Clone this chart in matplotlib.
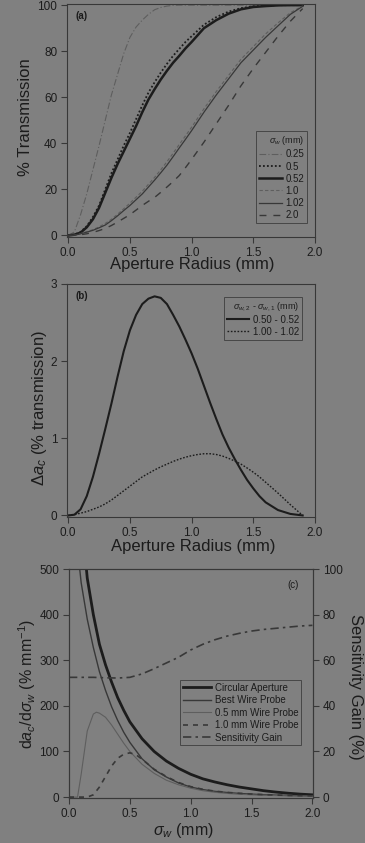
import matplotlib
matplotlib.use("Agg")
import matplotlib.pyplot as plt

# ---------------------------------------------------------------
# Figure + colours
# ---------------------------------------------------------------
W, H = 365, 843
BG = "#808080"
INK = "#1c1c1c"
DARK = "#383838"
LIGHT = "#5e5e5e"

plt.rcParams["font.family"] = ["Liberation Sans", "DejaVu Sans"]
plt.rcParams["mathtext.fontset"] = "custom"
plt.rcParams["mathtext.rm"] = "Liberation Sans"
plt.rcParams["mathtext.it"] = "Liberation Sans:italic"
plt.rcParams["text.color"] = INK
plt.rcParams["axes.edgecolor"] = DARK
plt.rcParams["xtick.color"] = DARK
plt.rcParams["ytick.color"] = DARK
plt.rcParams["xtick.labelcolor"] = INK
plt.rcParams["ytick.labelcolor"] = INK

# ---------------------------------------------------------------
# Panel (a): % transmission vs aperture radius
# ---------------------------------------------------------------
r_a = [0.0, 0.05, 0.1, 0.15, 0.2, 0.25, 0.3, 0.35, 0.4, 0.45, 0.5, 0.55, 0.6,
       0.65, 0.7, 0.75, 0.8, 0.85, 0.9, 0.95, 1.0, 1.1, 1.2, 1.3, 1.4, 1.5,
       1.6, 1.7, 1.8, 1.9]
t_025 = [0, 1.5, 9, 18, 28.5, 39, 50, 61, 70, 79, 86, 90.5, 93.5,
         96, 98, 99, 99.6, 99.9, 100, 100, 100, 100, 100, 100, 100, 100,
         100, 100, 100, 100]
t_050 = [0, 0.3, 1.5, 4, 8, 13, 20, 27, 33, 39, 44.5, 50.5, 56.5,
         62, 66.5, 70.7, 74.5, 78, 81, 84, 86.5, 91.5, 94.8, 97.2, 98.7, 99.5,
         99.8, 100, 100, 100]
t_052 = [0, 0.3, 1.2, 3.5, 7, 12, 18.5, 25, 31, 36.5, 42, 47.5, 53.5,
         59, 63.5, 67.7, 71.5, 75, 78, 81.2, 84, 90, 93.5, 96.3, 98.2, 99.2,
         99.6, 99.9, 100, 100]
t_100 = [0, 0.1, 0.8, 1.6, 2.5, 3.7, 5.2, 7.0, 9.2, 11.6, 14, 16.6, 19.2,
         22.2, 25.2, 28.5, 32, 35.7, 39.5, 43.2, 47, 55, 62.5, 69.5, 76.5, 82,
         87.5, 92.3, 96.7, 99.7]
t_102 = [0, 0.1, 0.7, 1.4, 2.2, 3.3, 4.5, 6.4, 8.5, 10.8, 13, 15.5, 18,
         21, 24, 27.2, 30.5, 34.2, 38, 41.7, 45.5, 53.5, 61, 68, 75, 80.5,
         86, 91, 96, 99.5]
t_200 = [0, 0.05, 0.3, 0.7, 1.3, 2.1, 3, 4.3, 5.8, 7.4, 9, 11, 13,
         14.8, 16.5, 18.7, 21, 23.4, 26, 29.4, 33, 40.5, 48.5, 56.5, 65, 72.5,
         79.5, 86.5, 93, 98.5]

# ---------------------------------------------------------------
# Panel (b): difference in transmission
# ---------------------------------------------------------------
r_b = [0.0, 0.05, 0.1, 0.15, 0.2, 0.25, 0.3, 0.35, 0.4, 0.45, 0.5, 0.55, 0.6,
       0.65, 0.7, 0.75, 0.8, 0.85, 0.9, 0.95, 1.0, 1.05, 1.1, 1.15, 1.2, 1.25,
       1.3, 1.35, 1.4, 1.45, 1.5, 1.55, 1.6, 1.7, 1.8, 1.9]
d_050_052 = [0, 0.01, 0.08, 0.25, 0.5, 0.8, 1.12, 1.45, 1.8, 2.13, 2.4, 2.6, 2.74,
             2.81, 2.84, 2.82, 2.74, 2.6, 2.45, 2.28, 2.1, 1.9, 1.68, 1.46, 1.25, 1.05,
             0.88, 0.73, 0.59, 0.46, 0.35, 0.25, 0.17, 0.07, 0.02, 0.0]
d_100_102 = [0, 0.01, 0.03, 0.05, 0.08, 0.11, 0.15, 0.2, 0.26, 0.32, 0.38, 0.44, 0.5,
             0.545, 0.59, 0.63, 0.665, 0.7, 0.73, 0.755, 0.775, 0.79, 0.80, 0.80, 0.79, 0.77,
             0.74, 0.705, 0.665, 0.615, 0.56, 0.5, 0.43, 0.29, 0.14, 0.0]

# ---------------------------------------------------------------
# Panel (c): sensitivity vs sigma_w
# ---------------------------------------------------------------
s_circ = [0.143, 0.15, 0.2, 0.25, 0.3, 0.35, 0.4, 0.45, 0.5, 0.6, 0.7, 0.8, 0.9,
          1.0, 1.1, 1.2, 1.3, 1.4, 1.5, 1.6, 1.7, 1.8, 1.9, 2.0]
v_circ = [500, 480, 400, 335, 290, 252, 218, 190, 165, 128, 100, 79, 63,
          50, 40, 33, 27, 22, 18, 14, 11, 8.5, 6.5, 5]

s_best = [0.088, 0.1, 0.15, 0.2, 0.25, 0.3, 0.35, 0.4, 0.45, 0.5, 0.6, 0.7, 0.8,
          0.9, 1.0, 1.1, 1.2, 1.3, 1.4, 1.5, 1.6, 1.7, 1.8, 1.9, 2.0]
v_best = [500, 470, 390, 328, 275, 234, 198, 168, 142, 120, 84, 60, 44,
          31, 22, 16.5, 12.5, 10, 8, 6.5, 5.2, 4.3, 3.6, 3, 2.6]

s_w05 = [0.0, 0.07, 0.1, 0.15, 0.2, 0.225, 0.25, 0.3, 0.35, 0.4, 0.45, 0.5, 0.6,
         0.7, 0.8, 0.9, 1.0, 1.1, 1.2, 1.3, 1.4, 1.5, 1.6, 1.7, 1.8, 1.9, 2.0]
v_w05 = [0, 0, 50, 145, 182, 186, 184, 175, 158, 138, 118, 100, 72,
         52, 37, 27, 19.5, 14, 10.5, 8, 6.2, 4.9, 4, 3.3, 2.7, 2.3, 2]

s_w10 = [0.0, 0.15, 0.2, 0.25, 0.3, 0.35, 0.4, 0.45, 0.5, 0.55, 0.6, 0.7, 0.8,
         0.9, 1.0, 1.1, 1.2, 1.3, 1.4, 1.5, 1.6, 1.7, 1.8, 1.9, 2.0]
v_w10 = [0, 0, 5, 22, 45, 68, 85, 94, 97, 93, 83, 61, 45,
         32, 23, 17, 13, 10.3, 8.3, 6.7, 5.4, 4.5, 3.7, 3.1, 2.7]

s_gain = [0.0, 0.1, 0.2, 0.3, 0.4, 0.5, 0.6, 0.7, 0.8, 0.9, 1.0, 1.1, 1.2,
          1.3, 1.4, 1.5, 1.6, 1.7, 1.8, 1.9, 2.0]
v_gain = [52.5, 52.5, 52.5, 52.3, 52.2, 52.5, 54, 56.3, 58.8, 61.3, 64.5, 67, 69,
          70.6, 71.8, 72.8, 73.5, 74, 74.5, 75, 75.3]


def px_axes(fig, x0, x1, y0, y1):
    """Axes from pixel box (x0, x1, top, bottom)."""
    ax = fig.add_axes([x0 / W, 1 - y1 / H, (x1 - x0) / W, (y1 - y0) / H])
    ax.set_facecolor(BG)
    for sp in ax.spines.values():
        sp.set_linewidth(0.8)
    ax.tick_params(direction="out", length=4, width=0.8, labelsize=8.5, pad=3)
    return ax


def style_legend(leg):
    leg.get_frame().set_facecolor(BG)
    leg.get_frame().set_edgecolor(DARK)
    leg.get_frame().set_linewidth(0.7)
    leg.get_frame().set_boxstyle("square", pad=0)


fig = plt.figure(figsize=(W / 100, H / 100), dpi=100)
fig.patch.set_facecolor(BG)

xticks = [0.0, 0.5, 1.0, 1.5, 2.0]
xticklabels = ["0.0", "0.5", "1.0", "1.5", "2.0"]

# ---------------- (a) ----------------
ax = px_axes(fig, 67, 315, 4, 237)
ax.plot(r_a, t_025, color=LIGHT, lw=0.8, ls=(0, (6, 2, 1, 2)), label="0.25")
ax.plot(r_a, t_050, color=INK, lw=1.3, ls=(0, (1, 1.2)), label="0.5")
ax.plot(r_a, t_052, color=INK, lw=1.8, label="0.52")
ax.plot(r_a, t_100, color=LIGHT, lw=0.8, ls=(0, (3, 2)), label="1.0")
ax.plot(r_a, t_102, color=DARK, lw=0.9, label="1.02")
ax.plot(r_a, t_200, color=DARK, lw=1.0, ls=(0, (5, 5)), label="2.0")
ax.set_xlim(-0.01, 2.0)
ax.set_ylim(-0.7, 100.5)
ax.set_xticks(xticks)
ax.set_xticklabels(xticklabels)
ax.set_yticks([0, 20, 40, 60, 80, 100])
ax.text(0.035, 0.935, "(a)", transform=ax.transAxes, fontsize=7, fontweight="bold")
leg = ax.legend(title=r"$\sigma_w$ (mm)", loc="lower right", bbox_to_anchor=(0.988, 0.039),
                fontsize=7, title_fontsize=6.5, handlelength=2.3, handletextpad=0.4,
                labelspacing=0.22, borderpad=0.3, alignment="right", fancybox=False)
style_legend(leg)

# ---------------- (b) ----------------
ax = px_axes(fig, 67, 315, 284, 517)
ax.plot(r_b, d_050_052, color=INK, lw=1.5, label="0.50 - 0.52")
ax.plot(r_b, d_100_102, color=INK, lw=1.0, ls=(0, (1.2, 1.2)), label="1.00 - 1.02")
ax.set_xlim(-0.01, 2.0)
ax.set_ylim(-0.02, 3.0)
ax.set_xticks(xticks)
ax.set_xticklabels(xticklabels)
ax.set_yticks([0, 1, 2, 3])
ax.text(0.035, 0.935, "(b)", transform=ax.transAxes, fontsize=7, fontweight="bold")
leg = ax.legend(title=r"$\sigma_{w,2}$ - $\sigma_{w,1}$ (mm)", loc="upper right",
                bbox_to_anchor=(0.968, 0.963), fontsize=7, title_fontsize=6.5,
                handlelength=2.3, handletextpad=0.4, labelspacing=0.2, borderpad=0.3,
                alignment="right", fancybox=False)
style_legend(leg)

# ---------------- (c) ----------------
ax = px_axes(fig, 69, 313, 569, 798)
h1, = ax.plot(s_circ, v_circ, color=INK, lw=2.0, label="Circular Aperture")
h2, = ax.plot(s_best, v_best, color=DARK, lw=1.0, label="Best Wire Probe")
h3, = ax.plot(s_w05, v_w05, color=LIGHT, lw=0.8, label="0.5 mm Wire Probe")
h4, = ax.plot(s_w10, v_w10, color=DARK, lw=1.2, ls=(0, (3, 3)), label="1.0 mm Wire Probe")
ax.set_xlim(0.0, 2.005)
ax.set_ylim(-2, 500)
ax.set_xticks(xticks)
ax.set_xticklabels(xticklabels)
ax.set_yticks([0, 100, 200, 300, 400, 500])
ax.text(0.94, 0.915, "(c)", transform=ax.transAxes, fontsize=7, ha="right")

ax2 = ax.twinx()
ax2.tick_params(direction="out", length=4, width=0.8, labelsize=8.5, pad=3)
h5, = ax2.plot(s_gain, v_gain, color=DARK, lw=1.2, ls=(0, (5, 2.5, 1.5, 2.5)),
               label="Sensitivity Gain")
ax2.set_ylim(-0.4, 100)
ax2.set_yticks([0, 20, 40, 60, 80, 100])
leg = ax2.legend(handles=[h1, h2, h3, h4, h5], loc="upper right",
                 bbox_to_anchor=(0.971, 0.537), fontsize=7, handlelength=2.8,
                 handletextpad=0.4, labelspacing=0.25, borderpad=0.3, fancybox=False)
style_legend(leg)

# ---------------- axis titles ----------------
fig.text(26 / W, 1 - 117 / H, "% Transmission", rotation=90, ha="center", va="center", fontsize=12)
fig.text(192 / W, 1 - 265 / H, "Aperture Radius (mm)", ha="center", va="center", fontsize=12)
fig.text(40 / W, 1 - 408 / H, r"$\Delta a_c$ (% transmission)", rotation=90,
         ha="center", va="center", fontsize=12)
fig.text(193 / W, 1 - 547 / H, "Aperture Radius (mm)", ha="center", va="center", fontsize=12)
fig.text(27 / W, 1 - 684 / H, r"d$a_c$/d$\sigma_w$ (% mm$^{-1}$)", rotation=90,
         ha="center", va="center", fontsize=11.5)
fig.text(355 / W, 1 - 687 / H, "Sensitivity Gain (%)", rotation=270,
         ha="center", va="center", fontsize=12)
fig.text(183 / W, 1 - 830 / H, r"$\sigma_w$ (mm)", ha="center", va="center", fontsize=11.5)

fig.savefig("out.png", dpi=100, facecolor=BG)
